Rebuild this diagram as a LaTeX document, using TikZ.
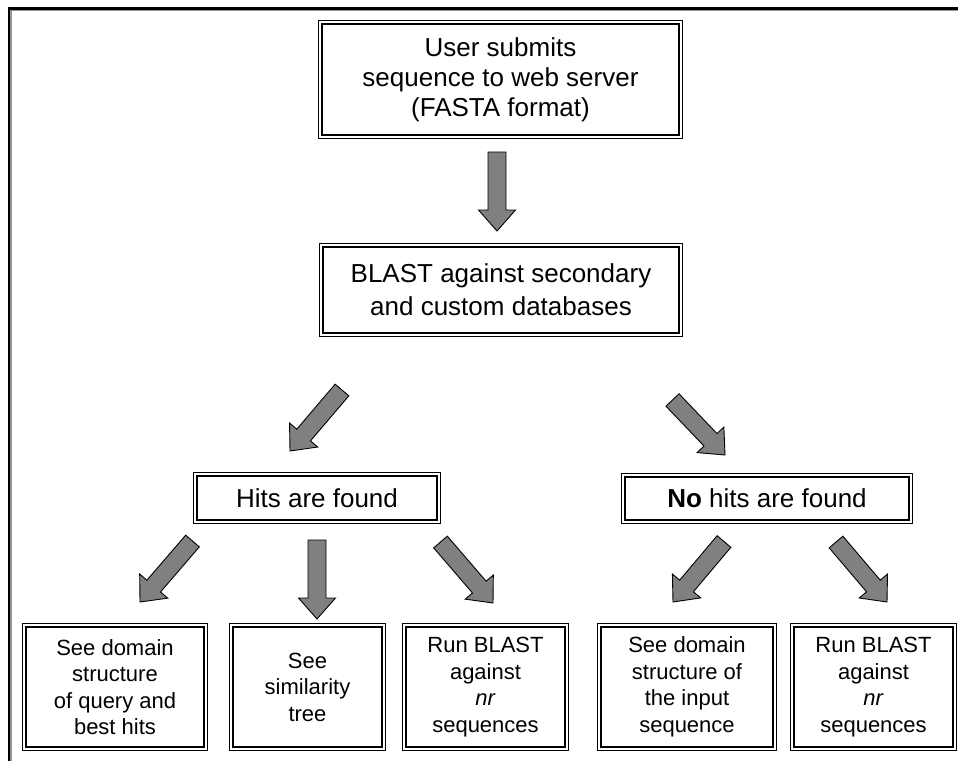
\documentclass[tikz,border=0pt]{standalone}
\usepackage{fontspec}
\setmainfont{Liberation Sans}
\usetikzlibrary{calc}
\definecolor{arrgray}{RGB}{128,128,128}
\definecolor{framegray}{RGB}{150,150,150}
\tikzset{
  dbox/.style={draw, line width=1.3pt, double, double distance=2pt, align=center, inner sep=0pt},
  bigtxt/.style={font=\fontsize{26}{30}\selectfont},
  smalltxt/.style={font=\fontsize{22}{26.5}\selectfont, minimum height=123.4pt},
  arrowbody/.style={draw=black, line width=0.9pt, fill=arrgray, line join=miter}
}
\newcommand\blockarrow[2]{%
  \coordinate (bah) at ($(#2)!21pt!(#1)$);
  \draw[arrowbody] ($(#1)!9pt!90:(#2)$) -- ($(bah)!9pt!-90:(#1)$) -- ($(bah)!18.5pt!-90:(#1)$) -- (#2) -- ($(bah)!18.5pt!90:(#1)$) -- ($(bah)!9pt!90:(#1)$) -- ($(#1)!9pt!-90:(#2)$) -- cycle;
}
\begin{document}
\begin{tikzpicture}[x=1pt, y=-1pt]
\useasboundingbox (0,0) rectangle (958,761);
\fill[white] (0,0) rectangle (958,761);
% frame
\draw[line width=2.2pt] (9,761) -- (9,8.5) -- (958,8.5);
\draw[framegray, line width=1.4pt] (10.9,761) -- (10.9,10.4) -- (958,10.4);

% boxes
\node[dbox, bigtxt, minimum width=360.4pt, minimum height=114.4pt] (top) at (500.5,79.5)
  {User submits\\sequence to web server\\(FASTA format)};
\node[dbox, font=\fontsize{26}{33}\selectfont, minimum width=359.4pt, minimum height=89.4pt] (blast) at (501,290)
  {BLAST against secondary\\and custom databases};
\node[dbox, bigtxt, minimum width=243.4pt, minimum height=47.4pt] (hits) at (317,498) {Hits are found};
\node[dbox, bigtxt, minimum width=287.4pt, minimum height=46.4pt] (nohits) at (767,498.5) {\textbf{No} hits are found};

\node[dbox, smalltxt, minimum width=181.4pt] (b1) at (115,687) {See domain\\structure\\of query and\\best hits};
\node[dbox, smalltxt, minimum width=152.4pt] (b2) at (307.5,687) {See\\similarity\\tree};
\node[dbox, smalltxt, minimum width=162.4pt] (b3) at (485.5,687) {Run BLAST\\against\\\textit{nr}\\sequences};
\node[dbox, smalltxt, minimum width=175.4pt] (b4) at (687,687) {See domain\\structure of\\the input\\sequence};
\node[dbox, smalltxt, minimum width=162.4pt] (b5) at (873.5,687) {Run BLAST\\against\\\textit{nr}\\sequences};

% arrow end points
\coordinate (a0s) at (497,152);   \coordinate (a0e) at (497,231);
\coordinate (a1s) at (342,390);   \coordinate (a1e) at (290,451);
\coordinate (a2s) at (672.5,400); \coordinate (a2e) at (725,455);
\coordinate (a3s) at (192.5,541); \coordinate (a3e) at (140,602);
\coordinate (a4s) at (317,540);   \coordinate (a4e) at (317,619);
\coordinate (a5s) at (440.5,542); \coordinate (a5e) at (493,603);
\coordinate (a6s) at (724,541.5); \coordinate (a6e) at (673,602);
\coordinate (a7s) at (836,542);   \coordinate (a7e) at (887,602);

\blockarrow{a0s}{a0e}
\blockarrow{a1s}{a1e}
\blockarrow{a2s}{a2e}
\blockarrow{a3s}{a3e}
\blockarrow{a4s}{a4e}
\blockarrow{a5s}{a5e}
\blockarrow{a6s}{a6e}
\blockarrow{a7s}{a7e}
\end{tikzpicture}
\end{document}
